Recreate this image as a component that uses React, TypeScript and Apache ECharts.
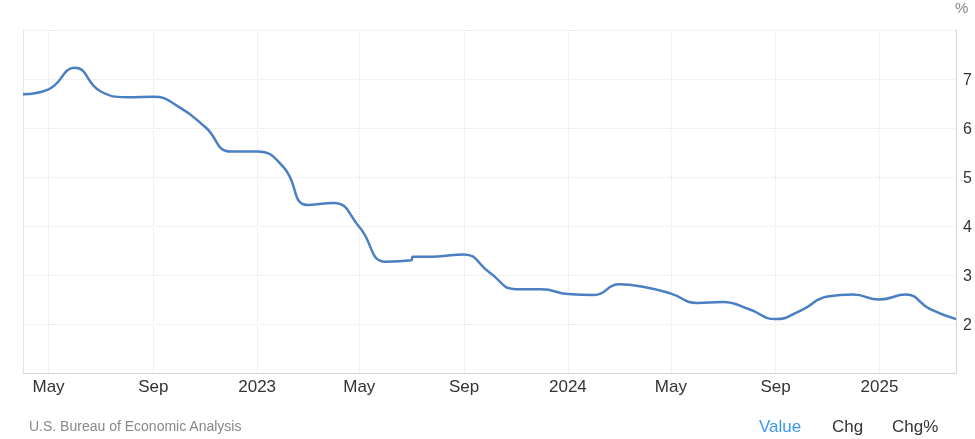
import React, { useEffect, useRef } from "react";
import * as echarts from "echarts";

const dates = [
  "2022-04-01", "2022-05-01", "2022-06-01", "2022-07-01", "2022-08-01", "2022-09-01",
  "2022-10-01", "2022-11-01", "2022-12-01", "2023-01-01", "2023-02-01", "2023-03-01",
  "2023-04-01", "2023-05-01", "2023-06-01", "2023-07-01", "2023-07-03", "2023-08-01",
  "2023-09-01", "2023-10-01", "2023-11-01", "2023-12-01", "2024-01-01", "2024-02-01",
  "2024-03-01", "2024-04-01", "2024-05-01", "2024-06-01", "2024-07-01", "2024-08-01",
  "2024-09-01", "2024-10-01", "2024-11-01", "2024-12-01", "2025-01-01", "2025-02-01",
  "2025-03-01", "2025-04-01",
];
const values = [
  6.69, 6.79, 7.23, 6.75, 6.63, 6.64,
  6.43, 6.02, 5.52, 5.52, 5.2, 4.43,
  4.47, 3.98, 3.27, 3.3, 3.37, 3.38,
  3.42, 3.05, 2.71, 2.71, 2.61, 2.59,
  2.81, 2.75, 2.62, 2.43, 2.45, 2.3,
  2.1, 2.28, 2.56, 2.6, 2.5, 2.6,
  2.31, 2.1,
];
const tickDates = [
  "2022-05-01", "2022-09-01", "2023-01-01", "2023-05-01", "2023-09-01",
  "2024-01-01", "2024-05-01", "2024-09-01", "2025-01-01",
];
const monthNames = ["Jan", "Feb", "Mar", "Apr", "May", "Jun", "Jul", "Aug", "Sep", "Oct", "Nov", "Dec"];
const xStart = "2022-04-01";
const xEnd = "2025-04-01";
const footerSource = "U.S. Bureau of Economic Analysis";
const footerTabs = ["Value", "Chg", "Chg%"];

function toTime(s: string): number {
  const [y, m, d] = s.split("-").map(Number);
  return Date.UTC(y, m - 1, d);
}

export default function App() {
  const ref = useRef<HTMLDivElement>(null);
  useEffect(() => {
    if (!ref.current) return;
    const chart = echarts.init(ref.current, null, { renderer: "svg" });
    const font = "Liberation Sans, Arial, sans-serif";
    const ticks = tickDates.map(toTime);
    chart.setOption({
      animation: false,
      textStyle: { fontFamily: font },
      grid: { left: 23, right: 18, top: 30, bottom: 66, containLabel: false },
      xAxis: {
        type: "value",
        min: toTime(xStart),
        max: toTime(xEnd),
        axisLine: { show: true, lineStyle: { color: "#d6d6d6", width: 1 } },
        axisTick: { show: false, customValues: ticks },
        axisLabel: {
          customValues: ticks,
          fontSize: 17,
          color: "#333",
          margin: 5,
          fontFamily: font,
          formatter: (v: number) => {
            const d = new Date(v);
            return d.getUTCMonth() === 0 ? String(d.getUTCFullYear()) : monthNames[d.getUTCMonth()];
          },
        },
        splitLine: { show: true, lineStyle: { color: "#e4e4e4", type: "dotted", width: 1 } },
      },
      yAxis: [
        {
          type: "value",
          position: "right",
          min: 1,
          max: 8,
          interval: 1,
          axisLine: { show: true, lineStyle: { color: "#d6d6d6", width: 1 } },
          axisTick: { show: false },
          axisLabel: {
            fontSize: 16,
            color: "#333",
            margin: 7,
            fontFamily: font,
            showMinLabel: false,
            showMaxLabel: false,
          },
          splitLine: { show: true, lineStyle: { color: "#e4e4e4", type: "dotted", width: 1 } },
        },
        {
          type: "value",
          position: "left",
          min: 1,
          max: 8,
          interval: 1,
          axisLine: { show: true, lineStyle: { color: "#e2e2e2", width: 1 } },
          axisTick: { show: false },
          axisLabel: { show: false },
          splitLine: { show: false },
        },
      ],
      series: [
        {
          type: "line",
          yAxisIndex: 0,
          data: dates.map((d, i) => [toTime(d), values[i]]),
          smooth: 0.5,
          showSymbol: false,
          lineStyle: { color: "#4a7fc4", width: 2.5 },
        },
      ],
      graphic: [
        { type: "text", left: 955, top: 0, style: { text: "%", fontSize: 15, fill: "#888", fontFamily: font } },
        { type: "text", left: 29, top: 419, style: { text: footerSource, fontSize: 14, fill: "#888", fontFamily: font } },
        { type: "text", left: 759, top: 418, style: { text: footerTabs[0], fontSize: 17, fill: "#3a9af0", fontFamily: font } },
        { type: "text", left: 832, top: 418, style: { text: footerTabs[1], fontSize: 17, fill: "#333", fontFamily: font } },
        { type: "text", left: 892, top: 418, style: { text: footerTabs[2], fontSize: 17, fill: "#333", fontFamily: font } },
      ],
    });
    return () => chart.dispose();
  }, []);
  return <div ref={ref} style={{ position: "fixed", left: 0, top: 0, width: 975, height: 439 }} />;
}
